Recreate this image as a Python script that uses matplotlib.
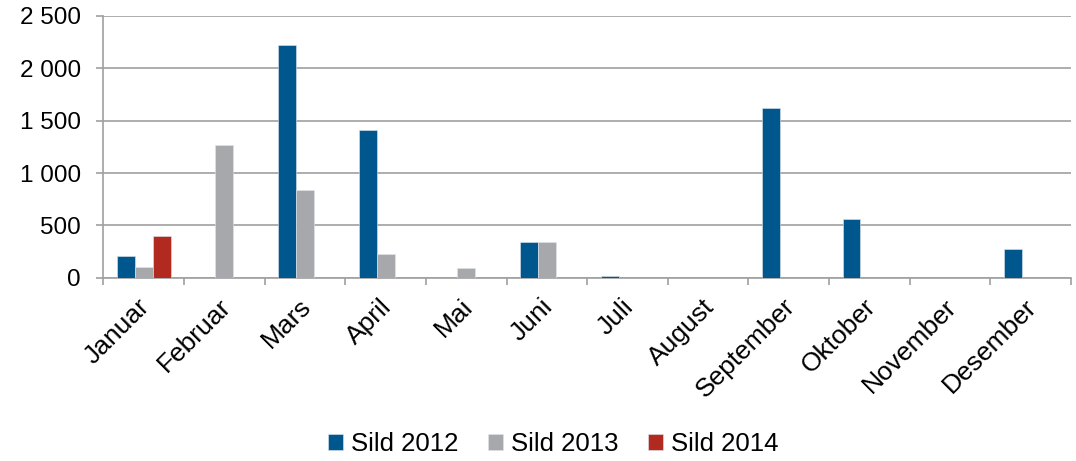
import matplotlib
matplotlib.use("Agg")
import matplotlib.pyplot as plt
import matplotlib.transforms as mtransforms
import numpy as np
from matplotlib.ticker import FuncFormatter

months = ["Januar", "Februar", "Mars", "April", "Mai", "Juni", "Juli",
          "August", "September", "Oktober", "November", "Desember"]
sild_2012 = [210, 0, 2220, 1411, 0, 338, 15, 0, 1618, 558, 0, 274]
sild_2013 = [102, 1265, 835, 226, 90, 338, 0, 0, 0, 0, 0, 0]
sild_2014 = [395, 0, 0, 0, 0, 0, 0, 0, 0, 0, 0, 0]
series_names = ["Sild 2012", "Sild 2013", "Sild 2014"]
colors = ["#00578E", "#A7A8AC", "#B22A1F"]

plt.rcParams['font.family'] = ['Liberation Sans', 'DejaVu Sans']

fig = plt.figure(figsize=(10.76, 4.61), dpi=100)
ax = fig.add_axes([0.096, 0.3976, 0.8994, 0.5677])

x = np.arange(len(months))
w = 1 / 4.5
for i, (vals, name, c) in enumerate(zip([sild_2012, sild_2013, sild_2014], series_names, colors)):
    ax.bar(x + (i - 1) * w, vals, width=w, color=c, label=name,
           edgecolor="#dfe6ee", linewidth=0.4, zorder=3)

ax.set_xlim(-0.5, len(months) - 0.5)
ax.set_ylim(0, 2500)
ax.set_yticks(np.arange(0, 2501, 500))
ax.yaxis.set_major_formatter(FuncFormatter(lambda v, p: f"{int(v):,}".replace(",", " ")))
ax.grid(axis='y', color="#A0A0A0", linewidth=1.2, zorder=0)
ax.set_axisbelow(True)

ax.set_xticks(np.arange(-0.5, len(months), 1))
ax.set_xticklabels([])
ax.set_xticks(x, minor=True)
ax.tick_params(axis='x', which='minor', length=0, pad=12)
ax.tick_params(axis='x', which='major', length=5, color="#A0A0A0", width=1.2)
ax.tick_params(axis='y', length=5, color="#A0A0A0", width=1.2, labelsize=17.5, pad=11)
ax.set_xticklabels(months, minor=True, rotation=45, ha='right', rotation_mode='anchor', fontsize=19)
offset = mtransforms.ScaledTranslation(-6 / 100, 0, fig.dpi_scale_trans)
for tick in ax.xaxis.get_minor_ticks():
    tick.label1.set_transform(tick.label1.get_transform() + offset)

for s in ["top", "right"]:
    ax.spines[s].set_visible(False)
for s in ["left", "bottom"]:
    ax.spines[s].set_color("#A0A0A0")
    ax.spines[s].set_linewidth(1.2)

fig.legend(loc='center', bbox_to_anchor=(0.514, 0.037), ncol=3, frameon=False,
           fontsize=18.5, handlelength=0.6, handleheight=0.6, handletextpad=0.3,
           columnspacing=1.15)

fig.savefig("out.png", dpi=100)
